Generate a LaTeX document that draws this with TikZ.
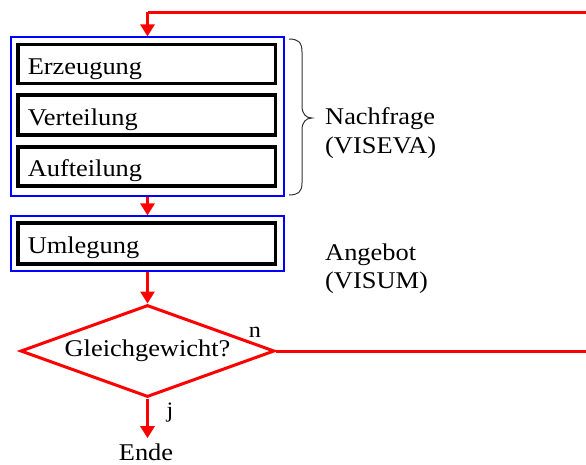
\documentclass[tikz,border=0pt]{standalone}
\usepackage{fontspec}
\setmainfont[FakeStretch=1.1]{Liberation Serif}
\usetikzlibrary{shapes.geometric,arrows.meta}
\begin{document}
\begin{tikzpicture}[x=1pt,y=-1pt,
  font=\fontsize{24}{28}\selectfont,
  group/.style={draw=blue,line width=1.2pt,minimum width=273pt,inner sep=0pt},
  stage/.style={draw=black,line width=3.5pt,minimum width=257.5pt,text width=237.5pt,
    inner xsep=10pt,inner ysep=0pt,align=left,text height=24pt,text depth=4pt},
  flow/.style={draw=red,line width=3pt,-{Triangle[width=14pt,length=12pt]}},
  loop/.style={draw=red,line width=3pt},
  decision/.style={diamond,draw=red,line width=3pt,aspect=2.7,inner sep=0pt,
    minimum width=254pt,minimum height=92pt},
  note/.style={anchor=base west,inner sep=0pt},
  branchlabel/.style={anchor=base,inner sep=0pt,font=\fontsize{22}{26}\selectfont}]
\useasboundingbox (0,0) rectangle (586,464);
\clip (0,0) rectangle (586,464);

% demand model block
\node[group,minimum height=159pt] (nachfrage) at (147.5,116.5) {};
\node[stage,minimum height=39pt] (erz) at (146.5,64) {Erzeugung};
\node[stage,minimum height=40pt] (vert) at (146.5,115) {Verteilung};
\node[stage,minimum height=39pt] (auft) at (146.5,166.5) {Aufteilung};

% supply model block
\node[group,minimum height=55pt] (angebot) at (147.5,243.5) {};
\node[stage,minimum height=41pt] (uml) at (146.5,243.5) {Umlegung};

% convergence test
\node[decision] (gg) at (147.5,351) {Gleichgewicht?};
\node[anchor=base,inner sep=0pt,inner ysep=5pt] (ende) at (146,460) {Ende};
\node[branchlabel] (nein) at (255,337) {n};
\node[branchlabel] (ja) at (170,417) {j};

% labels
\node[note] (nf1) at (325,124) {Nachfrage};
\node[note] (nf2) at (325,153) {(VISEVA)};
\node[note] (an1) at (325,260) {Angebot};
\node[note] (an2) at (325,288) {(VISUM)};

% brace grouping the demand steps
\draw[black!80,line width=1pt]
  (289,39) .. controls (298,39) and (302,42) .. (302,52) -- (302,106)
  .. controls (302,114) and (306,118) .. (312,118)
  .. controls (306,118) and (302,122) .. (302,130) -- (302,183)
  .. controls (302,192) and (298,195) .. (289,195);

% flow
\coordinate (rback) at (593,351);
\coordinate (rtop) at (593,12);
\coordinate (ltop) at (nachfrage.north |- rtop);
\draw[flow] (nachfrage.south) -- (angebot.north);
\draw[flow] (angebot.south) -- (gg.north);
\draw[flow] (gg.south) -- (gg.south |- ende.north);
\draw[loop] (gg.east) -- (rback) -- (rtop) -- (ltop);
\draw[flow] (ltop) -- (nachfrage.north);
\end{tikzpicture}
\end{document}
